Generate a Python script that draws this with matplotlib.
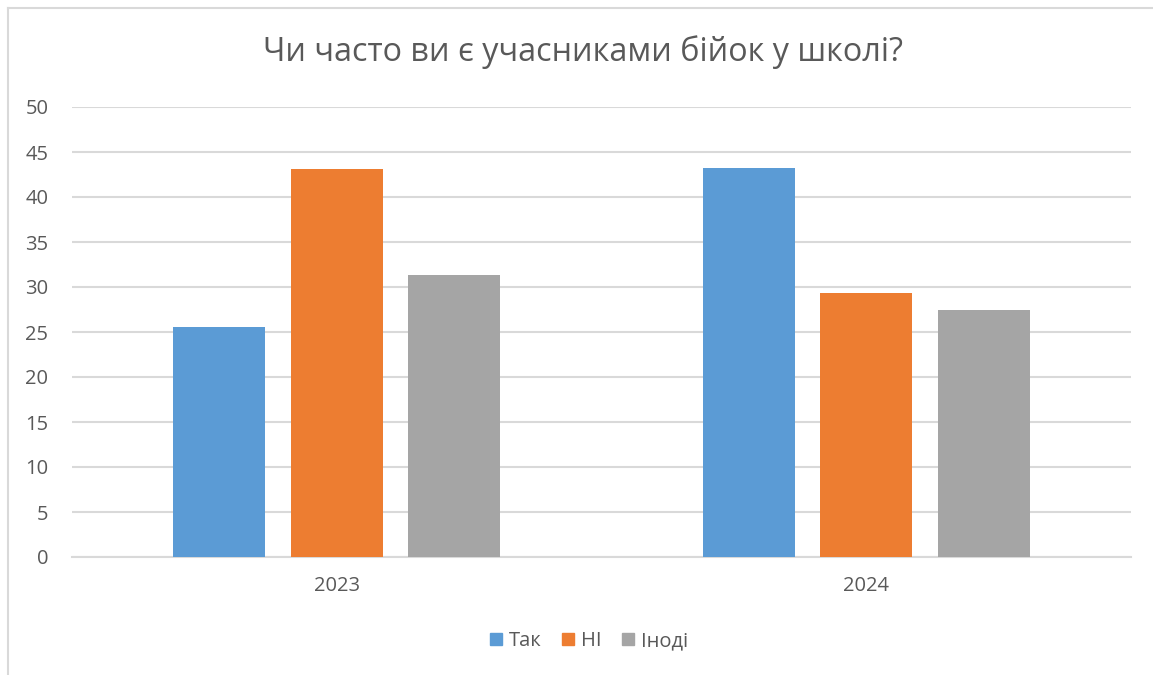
import matplotlib
matplotlib.use("Agg")
import matplotlib.pyplot as plt
import numpy as np
from matplotlib.lines import Line2D

years = ["2023", "2024"]
series_names = ["Так", "НІ", "Іноді"]
tak = [25.6, 43.2]
ni = [43.1, 29.3]
inodi = [31.3, 27.4]
y_ticks = [0, 5, 10, 15, 20, 25, 30, 35, 40, 45, 50]

colors = ["#5B9BD5", "#ED7D31", "#A5A5A5"]
text_color = "#595959"
grid_color = "#D9D9D9"

plt.rcParams['font.family'] = ['Open Sans', 'DejaVu Sans']

fig = plt.figure(figsize=(11.53, 6.75), dpi=100)
ax = fig.add_axes([72/1153, 1 - 557/675, (1131-72)/1153, (557-107)/675])

x = np.arange(len(years))
width = 0.174
offsets = [-0.222, 0.0, 0.222]
for vals, off, c, name in zip([tak, ni, inodi], offsets, colors, series_names):
    ax.bar(x + off, vals, width=width, color=c, label=name, zorder=3)

ax.set_xlim(-0.5, 1.5)
ax.set_ylim(0, 50)
ax.set_yticks(y_ticks)
ax.set_yticklabels([str(t) for t in y_ticks])
ax.set_xticks(x)
ax.set_xticklabels(years)
ax.yaxis.grid(True, color=grid_color, linewidth=1.5, zorder=0)
ax.set_axisbelow(True)
for s in ["top", "right", "left"]:
    ax.spines[s].set_visible(False)
ax.spines["bottom"].set_color(grid_color)
ax.spines["bottom"].set_linewidth(1.5)
ax.tick_params(axis="y", length=0, pad=17, labelsize=14.5, labelcolor=text_color)
ax.tick_params(axis="x", length=0, pad=14, labelsize=14.5, labelcolor=text_color)

fig.text(583/1153, 1 - 52/675, "Чи часто ви є учасниками бійок у школі?", ha="center", va="center",
         fontsize=23.3, color=text_color)

handles = [plt.Rectangle((0, 0), 1, 1, color=c) for c in colors]
fig.legend(handles, series_names, loc="center", bbox_to_anchor=(589/1153, 1 - 641/675), ncol=3,
           frameon=False, fontsize=14.5, labelcolor=text_color, handlelength=0.6, handleheight=0.6,
           handletextpad=0.35, columnspacing=1.0)

# chart border (top and left visible)
fig.add_artist(Line2D([8/1153, 8/1153], [0, 1 - 8/675], transform=fig.transFigure, color=grid_color, linewidth=1.5))
fig.add_artist(Line2D([8/1153, 1], [1 - 8/675, 1 - 8/675], transform=fig.transFigure, color=grid_color, linewidth=1.5))

fig.savefig("out.png", dpi=100)
